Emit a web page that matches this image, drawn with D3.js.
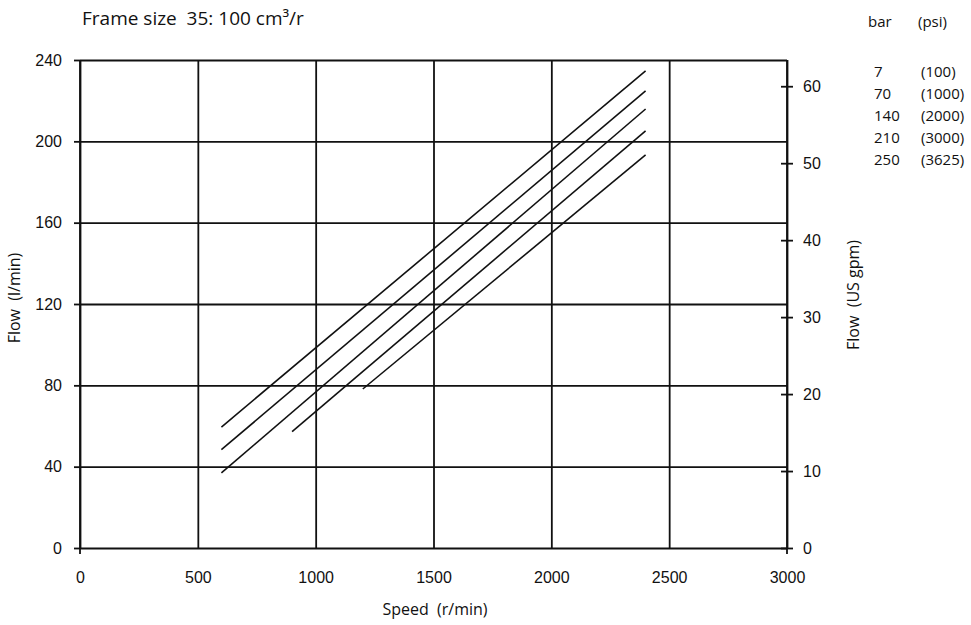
<!DOCTYPE html>
<html>
<head>
<meta charset="utf-8">
<script src="https://cdn.jsdelivr.net/npm/d3@7"></script>
<style>
  body { margin: 0; background: #fff; }
  svg { font-family: "Open Sans", sans-serif; }
  svg text { white-space: pre; }
</style>
</head>
<body>
<div class="content"></div>
<script>
// chart data
var speedTicks = [0, 500, 1000, 1500, 2000, 2500, 3000];
var flowTicks = [0, 40, 80, 120, 160, 200, 240];
var gpmTicks = [0, 10, 20, 30, 40, 50, 60];
var pressureBar = ['7', '70', '140', '210', '250'];
var pressurePsi = ['(100)', '(1000)', '(2000)', '(3000)', '(3625)'];
var startSpeed = [600, 600, 600, 900, 1200];
var startFlow = [59.5, 48.4, 36.9, 57.2, 78.2];
var endSpeed = [2400, 2400, 2400, 2400, 2400];
var endFlow = [234.6, 224.8, 215.9, 205.1, 193.3];

var lpmPerGpm = 3.785;

var svg = d3.select('.content')
  .append('svg')
  .attr('width', 971)
  .attr('height', 625);

var plotLeft = 80, plotRight = 787, plotTop = 60, plotBottom = 548;
var ink = '#111';

var x = d3.scaleLinear().domain([0, 3000]).range([plotLeft, plotRight]);
var y = d3.scaleLinear().domain([0, 240]).range([plotBottom, plotTop]);
var y2 = d3.scaleLinear().domain([0, 240 / lpmPerGpm]).range([plotBottom, plotTop]);

// vertical grid
var gridX = svg.append('g')
  .attr('transform', 'translate(0,' + plotBottom + ')')
  .call(d3.axisBottom(x).tickValues(speedTicks).tickSize(-(plotBottom - plotTop)).tickFormat(''));
gridX.select('.domain').remove();
gridX.selectAll('line').attr('stroke', ink).attr('stroke-width', 1.8);

// horizontal grid
var gridY = svg.append('g')
  .attr('transform', 'translate(' + plotLeft + ',0)')
  .call(d3.axisLeft(y).tickValues(flowTicks).tickSize(-(plotRight - plotLeft)).tickFormat(''));
gridY.select('.domain').remove();
gridY.selectAll('line').attr('stroke', ink).attr('stroke-width', 1.8);

// left axis
var axisL = svg.append('g')
  .attr('transform', 'translate(' + plotLeft + ',0)')
  .call(d3.axisLeft(y).tickValues(flowTicks).tickFormat(d3.format('d')).tickSize(6).tickSizeOuter(0).tickPadding(12));
axisL.select('.domain').remove();
axisL.selectAll('line').attr('stroke', ink).attr('stroke-width', 1.8);
axisL.selectAll('text').style('font-size', '16px').attr('fill', ink);

// bottom labels
var axisB = svg.append('g')
  .attr('transform', 'translate(0,' + plotBottom + ')')
  .call(d3.axisBottom(x).tickValues(speedTicks).tickFormat(d3.format('d')).tickSize(0).tickPadding(24));
axisB.select('.domain').remove();
axisB.selectAll('text').style('font-size', '16px').attr('fill', ink);

// right axis (US gpm), ticks cross the line
var axisR = svg.append('g')
  .attr('transform', 'translate(' + plotRight + ',0)')
  .call(d3.axisRight(y2).tickValues(gpmTicks).tickFormat(d3.format('d')).tickSize(6).tickSizeOuter(0).tickPadding(10));
axisR.select('.domain').remove();
axisR.selectAll('line').attr('x1', -6).attr('stroke', ink).attr('stroke-width', 1.8);
axisR.selectAll('text').style('font-size', '16px').attr('fill', ink);

// frame lines extended a bit below zero
svg.append('line')
  .attr('x1', plotLeft).attr('x2', plotLeft)
  .attr('y1', plotTop).attr('y2', plotBottom + 6)
  .attr('stroke', ink).attr('stroke-width', 1.8);
svg.append('line')
  .attr('x1', plotRight).attr('x2', plotRight)
  .attr('y1', plotTop).attr('y2', plotBottom + 6)
  .attr('stroke', ink).attr('stroke-width', 1.8);

// performance lines
svg.append('g')
  .selectAll('line')
  .data(startSpeed)
  .enter()
  .append('line')
  .attr('x1', function(d, i) { return x(startSpeed[i]); })
  .attr('y1', function(d, i) { return y(startFlow[i]); })
  .attr('x2', function(d, i) { return x(endSpeed[i]); })
  .attr('y2', function(d, i) { return y(endFlow[i]); })
  .attr('stroke', ink)
  .attr('stroke-width', 1.6);

// titles
svg.append('text')
  .attr('x', 82).attr('y', 25)
  .style('font-size', '19px').attr('fill', ink)
  .text('Frame size  35: 100 cm\u00b3/r');

svg.append('text')
  .attr('transform', 'translate(20,298) rotate(-90)')
  .attr('text-anchor', 'middle')
  .style('font-size', '16px').attr('fill', ink)
  .text('Flow  (l/min)');

svg.append('text')
  .attr('transform', 'translate(859,295) rotate(-90)')
  .attr('text-anchor', 'middle')
  .style('font-size', '16px').attr('fill', ink)
  .text('Flow  (US gpm)');

svg.append('text')
  .attr('x', 435).attr('y', 615)
  .attr('text-anchor', 'middle')
  .style('font-size', '16px').attr('fill', ink)
  .text('Speed  (r/min)');

// pressure legend
var legend = svg.append('g').style('font-size', '15px').attr('fill', ink);
legend.append('text').attr('x', 868).attr('y', 27).text('bar');
legend.append('text').attr('x', 918).attr('y', 27).text('(psi)');
legend.selectAll('.bar')
  .data(pressureBar)
  .enter()
  .append('text')
  .attr('class', 'bar')
  .attr('x', 874)
  .attr('y', function(d, i) { return 77 + i * 22; })
  .text(function(d) { return d; });
legend.selectAll('.psi')
  .data(pressurePsi)
  .enter()
  .append('text')
  .attr('class', 'psi')
  .attr('x', 921)
  .attr('y', function(d, i) { return 77 + i * 22; })
  .text(function(d) { return d; });
</script>
</body>
</html>
